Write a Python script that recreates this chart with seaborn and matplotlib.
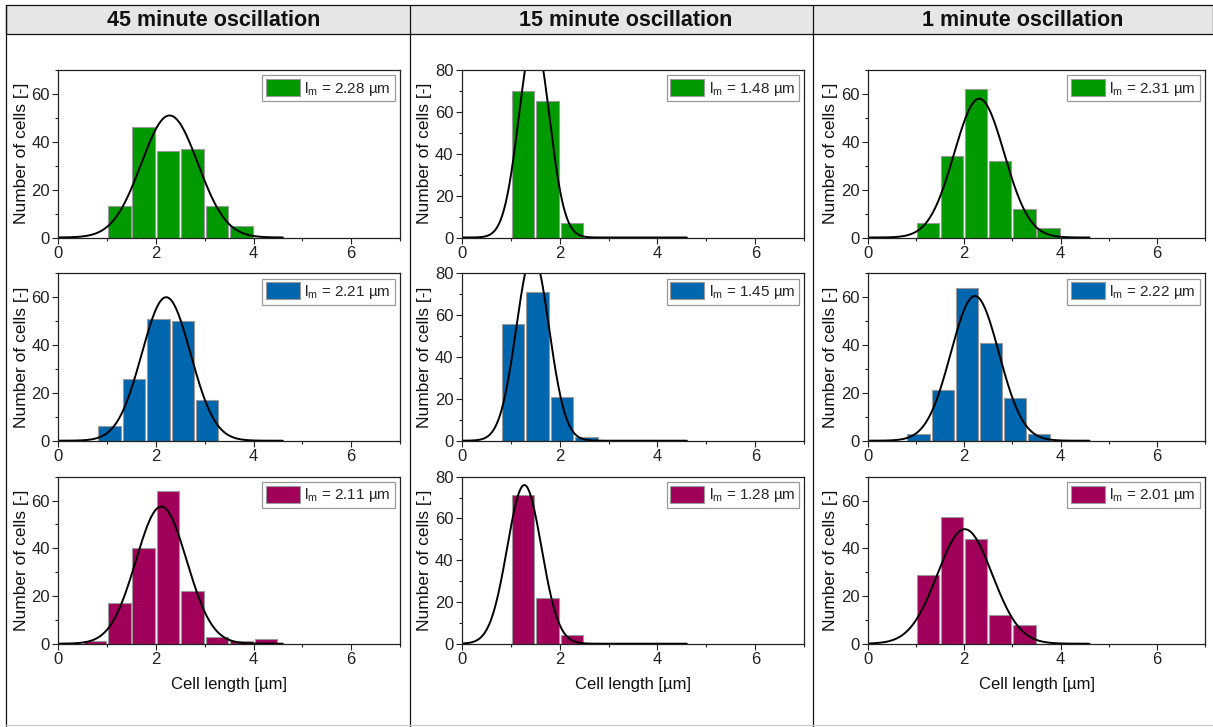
import numpy as np
import pandas as pd
import matplotlib
matplotlib.use("Agg")
import matplotlib.pyplot as plt
from matplotlib.patches import Rectangle, Patch
from matplotlib.lines import Line2D
from matplotlib.ticker import MultipleLocator
import seaborn as sns

# ---------------- data ----------------
columns = ["45 minute oscillation", "15 minute oscillation", "1 minute oscillation"]
row_colors = ["#009900", "#0066ad", "#a0005a"]

# bin left edges (bin width 0.5 um) and counts per panel [row][col]
edges_45_green = [1.0, 1.5, 2.0, 2.5, 3.0, 3.5]
counts_45_green = [13, 46, 36, 37, 13, 5]
edges_15_green = [1.0, 1.5, 2.0]
counts_15_green = [70, 65, 7]
edges_1_green = [1.0, 1.5, 2.0, 2.5, 3.0, 3.5]
counts_1_green = [6, 34, 62, 32, 12, 4]

edges_45_blue = [0.8, 1.3, 1.8, 2.3, 2.8]
counts_45_blue = [6, 26, 51, 50, 17]
edges_15_blue = [0.8, 1.3, 1.8, 2.3]
counts_15_blue = [56, 71, 21, 2]
edges_1_blue = [0.8, 1.3, 1.8, 2.3, 2.8, 3.3]
counts_1_blue = [3, 21, 64, 41, 18, 3]

edges_45_mag = [0.5, 1.0, 1.5, 2.0, 2.5, 3.0, 3.5, 4.0]
counts_45_mag = [1, 17, 40, 64, 22, 3, 1, 2]
edges_15_mag = [1.0, 1.5, 2.0]
counts_15_mag = [71, 22, 4]
edges_1_mag = [1.0, 1.5, 2.0, 2.5, 3.0]
counts_1_mag = [29, 53, 44, 12, 8]

bin_width = 0.5

# Gaussian fit parameters per panel: mean (l_m), sigma, amplitude
fit_mean = [[2.28, 1.48, 2.31], [2.21, 1.45, 2.22], [2.11, 1.28, 2.01]]
fit_sigma = [[0.58, 0.31, 0.52], [0.50, 0.335, 0.50], [0.52, 0.35, 0.57]]
fit_amp = [[51, 96, 58], [60, 89, 60.5], [57.5, 76, 48]]

legend_values = [["2.28", "1.48", "2.31"], ["2.21", "1.45", "2.22"], ["2.11", "1.28", "2.01"]]
y_max = [70, 80, 70]

panel_edges = [[edges_45_green, edges_15_green, edges_1_green],
               [edges_45_blue, edges_15_blue, edges_1_blue],
               [edges_45_mag, edges_15_mag, edges_1_mag]]
panel_counts = [[counts_45_green, counts_15_green, counts_1_green],
                [counts_45_blue, counts_15_blue, counts_1_blue],
                [counts_45_mag, counts_15_mag, counts_1_mag]]

# ---------------- style ----------------
sns.set_style("ticks")
plt.rcParams["font.family"] = ["Liberation Sans", "DejaVu Sans"]
plt.rcParams["mathtext.fontset"] = "custom"
plt.rcParams["mathtext.rm"] = "Liberation Sans"
plt.rcParams["mathtext.it"] = "Liberation Sans:italic"
plt.rcParams["axes.edgecolor"] = "#222222"
plt.rcParams["axes.linewidth"] = 0.9

W, H = 1213, 727
fig = plt.figure(figsize=(W / 100, H / 100), dpi=100)

# header / frame
hdr = Rectangle((6 / W, 1 - 34 / H), (W - 6) / W, 29 / H, transform=fig.transFigure,
                facecolor="#e6e6e6", edgecolor="#111111", linewidth=0.9, zorder=0)
fig.patches.append(hdr)
for xp in [6, 410, 813]:
    fig.add_artist(Line2D([xp / W, xp / W], [1 - 5 / H, 0], transform=fig.transFigure,
                          color="#111111", linewidth=0.9))
fig.add_artist(Line2D([6 / W, 1], [1 - 725 / H, 1 - 725 / H], transform=fig.transFigure,
                      color="#cccccc", linewidth=0.9))

title_x = [214, 626, 1023]
for j, t in enumerate(columns):
    fig.text(title_x[j] / W, 1 - 20.5 / H, t, ha="center", va="center",
             fontsize=15.5, fontweight="bold", color="#111111")

col_left = [58.3, 461.7, 868]
col_right = [400, 804.3, 1205]
row_top = [70, 273.3, 476.7]
row_bot = [237.5, 440.7, 643.7]

fs = 12
x_grid = np.linspace(0, 4.6, 400)

for i in range(3):
    for j in range(3):
        ax = fig.add_axes([col_left[j] / W, 1 - row_bot[i] / H,
                           (col_right[j] - col_left[j]) / W, (row_bot[i] - row_top[i]) / H])
        left_edges = np.array(panel_edges[i][j])
        centers = left_edges + bin_width / 2
        bins = list(left_edges) + [left_edges[-1] + bin_width]
        df = pd.DataFrame({"length": centers, "count": panel_counts[i][j]})
        sns.histplot(data=df, x="length", weights="count", bins=bins, shrink=0.92,
                     color=row_colors[i], edgecolor="#9a9a9a", linewidth=0.8,
                     alpha=1, ax=ax)
        curve = pd.DataFrame({"x": x_grid,
                              "y": fit_amp[i][j] * np.exp(-(x_grid - fit_mean[i][j]) ** 2
                                                          / (2 * fit_sigma[i][j] ** 2))})
        sns.lineplot(data=curve, x="x", y="y", color="black", linewidth=1.4, ax=ax)
        ax.set_xlim(0, 7)
        ax.set_ylim(0, y_max[j])
        ax.xaxis.set_major_locator(MultipleLocator(2))
        ax.xaxis.set_minor_locator(MultipleLocator(1))
        ax.yaxis.set_major_locator(MultipleLocator(20))
        ax.yaxis.set_minor_locator(MultipleLocator(10))
        ax.tick_params(which="major", direction="out", length=4, width=0.8,
                       labelsize=fs, colors="#222222", pad=2)
        ax.tick_params(which="minor", direction="out", length=2.5, width=0.8, colors="#222222")
        ax.tick_params(top=False, right=False)
        for sp in ax.spines.values():
            sp.set_visible(True)
        ax.set_ylabel("Number of cells [-]", fontsize=12.5, color="#111111", labelpad=2)
        if i == 2:
            ax.set_xlabel("Cell length [µm]", fontsize=fs, color="#111111", labelpad=7)
        else:
            ax.set_xlabel("")
        handle = Patch(facecolor=row_colors[i], edgecolor="#9a9a9a", linewidth=0.8)
        leg = ax.legend([handle], [r"l$_\mathrm{m}$ = " + legend_values[i][j] + " µm"],
                        loc="upper right", fontsize=11, frameon=True, fancybox=False,
                        framealpha=1, edgecolor="#999999", borderpad=0.25,
                        handlelength=2.2, handleheight=1.3, handletextpad=0.3,
                        borderaxespad=0.35)
        leg.get_frame().set_linewidth(0.9)

fig.savefig("out.png", dpi=100)
